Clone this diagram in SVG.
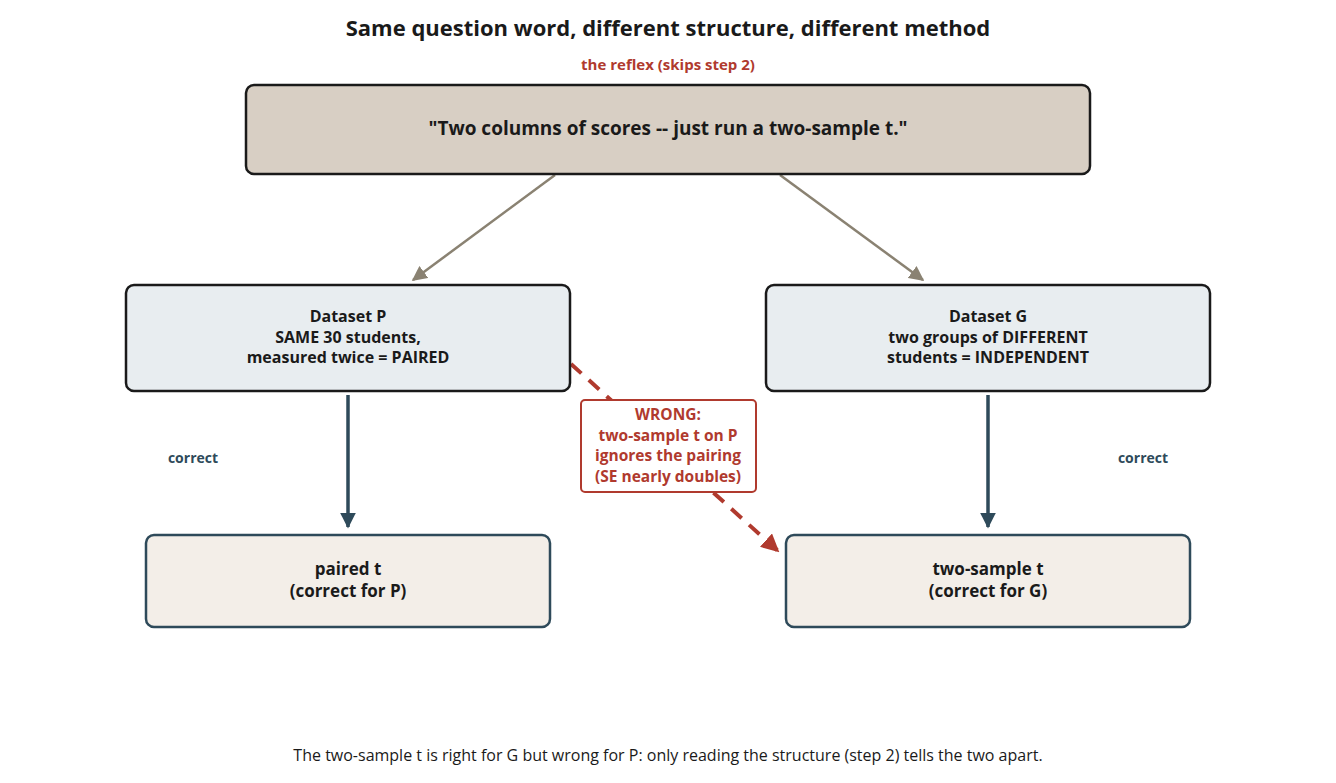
<svg xmlns="http://www.w3.org/2000/svg" width="1336" height="783" viewBox="0 0 1336 783">
<defs>
<style>
text{font-family:"Open Sans","Noto Sans",sans-serif;text-anchor:middle;fill:#1a1a1a}
.b{font-weight:bold}
.red{fill:#b03a2e}
.dk{fill:#2e4a5a}
</style>
<marker id="ag" viewBox="0 0 10 10" refX="9" refY="5" markerWidth="6" markerHeight="6" orient="auto"><path d="M0,0L10,5L0,10z" fill="#8a8272"/></marker>
<marker id="ad" viewBox="0 0 10 10" refX="9" refY="5" markerWidth="4.5" markerHeight="4.5" orient="auto"><path d="M0,0L10,5L0,10z" fill="#2e4a5a"/></marker>
<marker id="ar" viewBox="0 0 10 10" refX="9" refY="5" markerWidth="4.5" markerHeight="4.5" orient="auto"><path d="M0,0L10,5L0,10z" fill="#b03a2e"/></marker>
</defs>
<rect width="1336" height="783" fill="#fff"/>
<text x="668" y="36" class="b" font-size="22">Same question word, different structure, different method</text>
<text x="668" y="70" class="b red" font-size="15">the reflex (skips step 2)</text>
<g id="connectors" fill="none">
<line x1="555" y1="175" x2="413" y2="280" stroke="#8a8272" stroke-width="2.5" marker-end="url(#ag)"/>
<line x1="780" y1="175" x2="923" y2="280" stroke="#8a8272" stroke-width="2.5" marker-end="url(#ag)"/>
<line x1="348" y1="395" x2="348" y2="527" stroke="#2e4a5a" stroke-width="3.5" marker-end="url(#ad)"/>
<line x1="988" y1="395" x2="988" y2="527" stroke="#2e4a5a" stroke-width="3.5" marker-end="url(#ad)"/>
<line x1="571" y1="364" x2="778" y2="551" stroke="#b03a2e" stroke-width="4" stroke-dasharray="14,10" marker-end="url(#ar)"/>
</g>
<g id="reflex"><rect x="246" y="85" width="844" height="89" rx="8" fill="#d8cfc4" stroke="#1a1a1a" stroke-width="2.5"/>
<text x="668" y="135" class="b" font-size="19">"Two columns of scores -- just run a two-sample t."</text></g>
<g id="datasetP"><rect x="126" y="285" width="444" height="106" rx="8" fill="#e8edf0" stroke="#1a1a1a" stroke-width="2.5"/>
<text class="b" font-size="16"><tspan x="348" y="322">Dataset P</tspan><tspan x="348" y="343">SAME 30 students,</tspan><tspan x="348" y="363">measured twice = PAIRED</tspan></text></g>
<g id="datasetG"><rect x="766" y="285" width="444" height="106" rx="8" fill="#e8edf0" stroke="#1a1a1a" stroke-width="2.5"/>
<text class="b" font-size="16"><tspan x="988" y="322">Dataset G</tspan><tspan x="988" y="343">two groups of DIFFERENT</tspan><tspan x="988" y="363">students = INDEPENDENT</tspan></text></g>
<g id="pairedT"><rect x="146" y="535" width="404" height="92" rx="8" fill="#f3eee8" stroke="#2e4a5a" stroke-width="2.5"/>
<text class="b" font-size="17"><tspan x="348" y="575">paired t</tspan><tspan x="348" y="597">(correct for P)</tspan></text></g>
<g id="twoSampleT"><rect x="786" y="535" width="404" height="92" rx="8" fill="#f3eee8" stroke="#2e4a5a" stroke-width="2.5"/>
<text class="b" font-size="17"><tspan x="988" y="575">two-sample t</tspan><tspan x="988" y="597">(correct for G)</tspan></text></g>
<text x="193" y="463" class="b dk" font-size="14">correct</text>
<text x="1143" y="463" class="b dk" font-size="14">correct</text>
<g id="wrongLabel"><rect x="581" y="400" width="175" height="92" rx="4" fill="#fff" stroke="#b03a2e" stroke-width="2"/>
<text class="b red" font-size="15.5"><tspan x="668" y="420">WRONG:</tspan><tspan x="668" y="441">two-sample t on P</tspan><tspan x="668" y="461">ignores the pairing</tspan><tspan x="668" y="482">(SE nearly doubles)</tspan></text></g>
<text x="668" y="761" font-size="16">The two-sample t is right for G but wrong for P: only reading the structure (step 2) tells the two apart.</text>
</svg>
